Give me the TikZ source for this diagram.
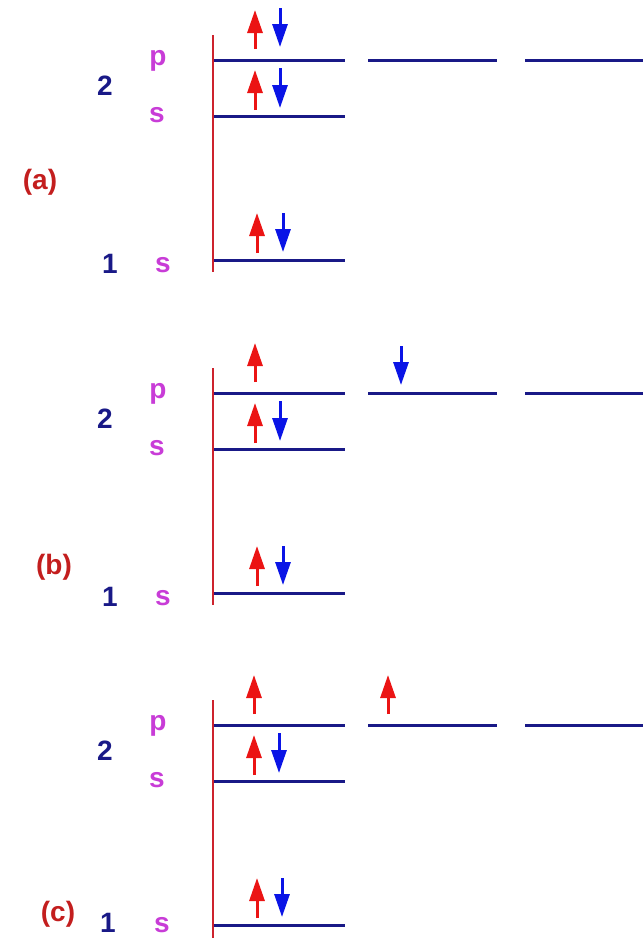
\documentclass[tikz,border=0pt]{standalone}
\usepackage{fontspec}
\setmainfont{Liberation Sans}
\usetikzlibrary{arrows.meta}
\definecolor{navy}{RGB}{25,25,135}
\definecolor{orchid}{RGB}{200,60,215}
\definecolor{labred}{RGB}{195,30,30}
\definecolor{axisred}{RGB}{205,35,45}
\definecolor{spinred}{RGB}{235,20,20}
\definecolor{spinblue}{RGB}{10,20,230}
\tikzset{
  level/.style={draw=navy, line width=3pt},
  axis/.style={draw=axisred, line width=2.5pt},
  spinup/.style={draw=spinred, line width=3pt, -{Triangle[length=23pt,width=15pt]}},
  spindown/.style={draw=spinblue, line width=3pt, -{Triangle[length=23pt,width=15pt]}},
  lbl/.style={inner sep=0pt, anchor=base, font=\bfseries\fontsize{28}{30}\selectfont}
}
\begin{document}
\begin{tikzpicture}[x=1pt, y=-1pt]
\useasboundingbox (0,0) rectangle (643,938);
% (a) ground state
\begin{scope}
\node[lbl, labred] (alab) at (40,189) {(a)};
\node[lbl, navy] (a2) at (105,95) {2};
\node[lbl, orchid] (a2p) at (158,65) {p};
\node[lbl, orchid] (a2s) at (157,122) {s};
\node[lbl, navy] (a1) at (110,273) {1};
\node[lbl, orchid] (a1s) at (163,272) {s};
\draw[axis] (213,35) -- (213,272);
\draw[level] (214,60) -- (345,60);
\draw[level] (368,60) -- (497,60);
\draw[level] (525,60) -- (643,60);
\draw[level] (214,116) -- (345,116);
\draw[level] (214,260) -- (345,260);
\draw[spinup] (255,49) -- (255,10);
\draw[spindown] (280,8) -- (280,47);
\draw[spinup] (255,110) -- (255,70);
\draw[spindown] (280,68) -- (280,108);
\draw[spinup] (257,253) -- (257,213);
\draw[spindown] (283,213) -- (283,252);
\end{scope}
% (b)
\begin{scope}[yshift=-333pt]
\node[lbl, labred] (blab) at (54,241) {(b)};
\node[lbl, navy] (b2) at (105,95) {2};
\node[lbl, orchid] (b2p) at (158,65) {p};
\node[lbl, orchid] (b2s) at (157,122) {s};
\node[lbl, navy] (b1) at (110,273) {1};
\node[lbl, orchid] (b1s) at (163,272) {s};
\draw[axis] (213,35) -- (213,272);
\draw[level] (214,60) -- (345,60);
\draw[level] (368,60) -- (497,60);
\draw[level] (525,60) -- (643,60);
\draw[level] (214,116) -- (345,116);
\draw[level] (214,260) -- (345,260);
\draw[spinup] (255,49) -- (255,10);
\draw[spindown] (401,13) -- (401,52);
\draw[spinup] (255,110) -- (255,70);
\draw[spindown] (280,68) -- (280,108);
\draw[spinup] (257,253) -- (257,213);
\draw[spindown] (283,213) -- (283,252);
\end{scope}
% (c)
\begin{scope}[yshift=-665pt]
\node[lbl, labred] (clab) at (58,256) {(c)};
\node[lbl, navy] (c2) at (105,95) {2};
\node[lbl, orchid] (c2p) at (158,65) {p};
\node[lbl, orchid] (c2s) at (157,122) {s};
\node[lbl, navy] (c1) at (108,267) {1};
\node[lbl, orchid] (c1s) at (162,267) {s};
\draw[axis] (213,35) -- (213,273);
\draw[level] (214,60) -- (345,60);
\draw[level] (368,60) -- (497,60);
\draw[level] (525,60) -- (643,60);
\draw[level] (214,116) -- (345,116);
\draw[level] (214,260) -- (345,260);
\draw[spinup] (254,49) -- (254,10);
\draw[spinup] (388,49) -- (388,10);
\draw[spinup] (254,110) -- (254,70);
\draw[spindown] (279,68) -- (279,108);
\draw[spinup] (257,253) -- (257,213);
\draw[spindown] (282,213) -- (282,252);
\end{scope}
\end{tikzpicture}
\end{document}
